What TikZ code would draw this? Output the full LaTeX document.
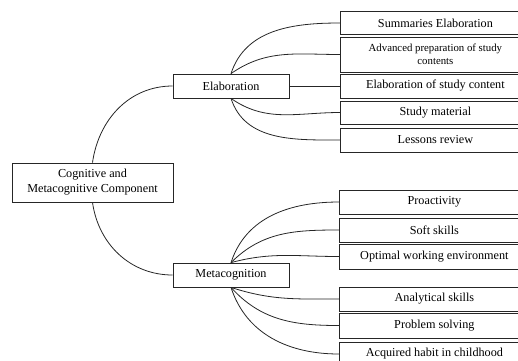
\documentclass[tikz,border=0pt]{standalone}
\usepackage{fontspec}
\setmainfont{Liberation Serif}
\begin{document}
\begin{tikzpicture}[x=1pt,y=-1pt,
  box/.style={draw=black!85, line width=0.8pt, inner sep=0pt, align=center,
    font=\fontsize{12.2}{15}\selectfont},
  leaf/.style={box, anchor=west, minimum width=190, minimum height=23},
  conn/.style={draw=black!85, line width=0.8pt}]
\useasboundingbox (0,0) rectangle (518,360);
\clip (0,0) rectangle (518,360);
\node[box, minimum width=161, minimum height=39] (root) at (92.5,182.5) {Cognitive and\\Metacognitive Component};
\node[box, minimum width=116, minimum height=24] (elab) at (231,86) {Elaboration};
\node[box, minimum width=116, minimum height=24] (meta) at (231,275) {Metacognition};
% top group
\node[leaf] (s1) at (340,23) {Summaries Elaboration};
\node[leaf, minimum height=35, font=\fontsize{10.8}{13}\selectfont] (s2) at (340,54.5) {Advanced preparation of study\\contents};
\node[leaf, minimum height=24] (s3) at (340,86) {Elaboration of study content};
\node[leaf] (s4) at (340,112.5) {Study material};
\node[leaf, minimum height=24] (s5) at (340,140) {Lessons review};
% bottom group
\node[leaf, minimum height=24] (m1) at (339,202) {Proactivity};
\node[leaf, minimum height=24] (m2) at (339,230) {Soft skills};
\node[leaf, minimum height=25] (m3) at (339,256.5) {Optimal working environment};
\node[leaf, minimum height=24] (m4) at (339,299) {Analytical skills};
\node[leaf, minimum height=25] (m5) at (339,325.5) {Problem solving};
\node[leaf, minimum height=24] (m6) at (339,354) {Acquired habit in childhood};
% connectors
\draw[conn] (root.north) to[out=82,in=180] (elab.west);
\draw[conn] (root.south) to[out=-82,in=180] (meta.west);
\draw[conn] (elab.north) to[out=72,in=180] (s1.west);
\draw[conn] (elab.north) to[out=35,in=180] (s2.west);
\draw[conn] (elab.east) -- (s3.west);
\draw[conn] (elab.south) to[out=-35,in=180] (s4.west);
\draw[conn] (elab.south) to[out=-72,in=180] (s5.west);
\draw[conn] (meta.north) to[out=72,in=180] (m1.west);
\draw[conn] (meta.north) to[out=45,in=180] (m2.west);
\draw[conn] (meta.north) to[out=15,in=180] (m3.west);
\draw[conn] (meta.south) to[out=-18,in=180] (m4.west);
\draw[conn] (meta.south) to[out=-48,in=180] (m5.west);
\draw[conn] (meta.south) to[out=-72,in=180] (m6.west);
\end{tikzpicture}
\end{document}
